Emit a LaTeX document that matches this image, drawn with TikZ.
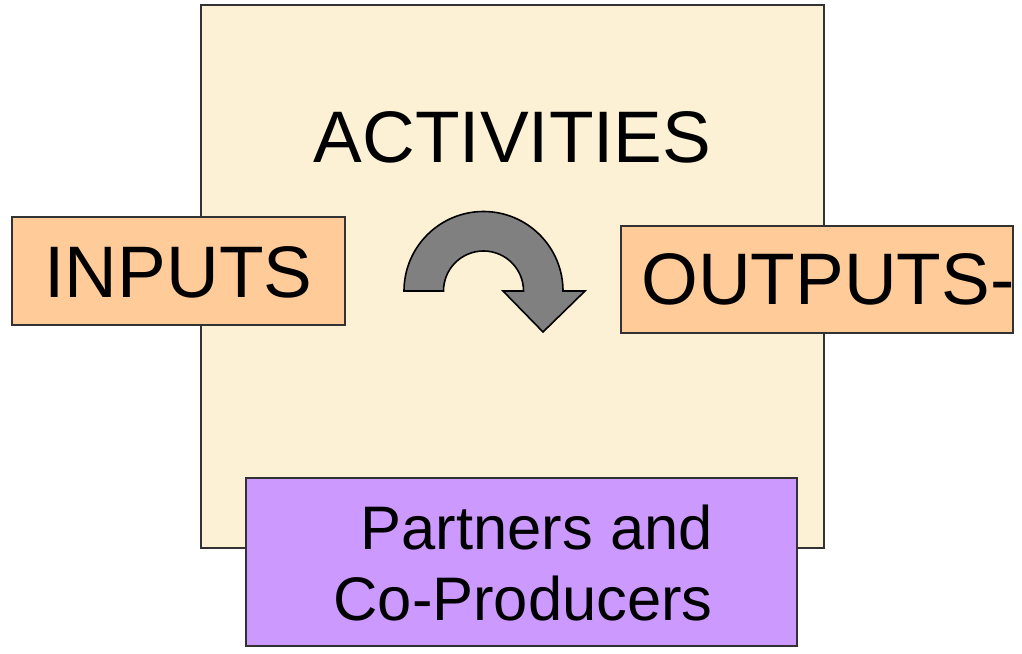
\documentclass[tikz,border=0pt]{standalone}
\usepackage{fontspec}
\setmainfont{Liberation Sans}
\definecolor{cream}{RGB}{252,241,213}
\definecolor{peach}{RGB}{255,204,153}
\definecolor{lilac}{RGB}{204,153,255}
\definecolor{arrowgray}{RGB}{128,128,128}
\definecolor{edge}{RGB}{50,50,50}
\tikzset{
  boxstyle/.style={draw=edge, line width=1.2pt, inner sep=0pt, outer sep=0pt},
  bigtext/.style={inner sep=0pt, font=\fontsize{73}{80}\selectfont},
  midtext/.style={inner sep=0pt, font=\fontsize{61.5}{70}\selectfont},
}
\begin{document}
\begin{tikzpicture}[x=1pt,y=1pt]
\useasboundingbox (0,0) rectangle (1022,653);
% activities area
\node[boxstyle, fill=cream, minimum width=623pt, minimum height=543pt] (act) at (512.5,376.5) {};
\node[bigtext, anchor=base] (acttxt) at (512.5,490) {ACTIVITIES};
% inputs
\node[boxstyle, fill=peach, minimum width=333pt, minimum height=108pt] (inp) at (178.5,382) {};
\node[bigtext, anchor=base] (inptxt) at (178.5,355) {INPUTS};
% outputs
\node[boxstyle, fill=peach, minimum width=392pt, minimum height=107pt] (out) at (817,373.5) {};
\node[bigtext, anchor=base west] (outtxt) at (641,348) {OUTPUTS-};
% partners
\node[boxstyle, fill=lilac, minimum width=551pt, minimum height=168pt] (part) at (521.5,91) {};
\node[midtext, anchor=base east] (p1) at (713,103) {Partners and};
\node[midtext, anchor=base east] (p2) at (713,33) {Co-Producers};
% curved arrow
\draw[draw=black, line width=1.6pt, fill=arrowgray, line join=miter]
  (404,362) arc[start angle=180, end angle=0, radius=79.5]
  -- (585,362) -- (543,321) -- (503,362) -- (523.5,362)
  arc[start angle=0, end angle=180, radius=40] -- cycle;
\end{tikzpicture}
\end{document}
